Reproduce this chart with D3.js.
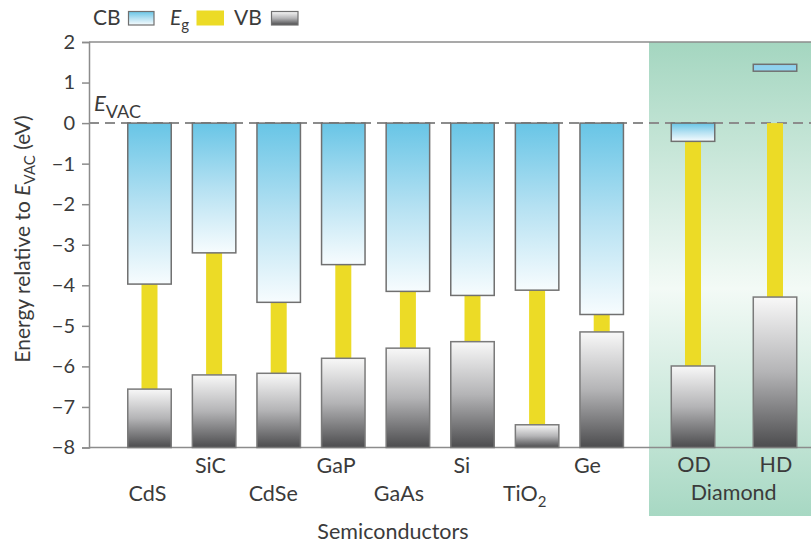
<!DOCTYPE html>
<html>
<head>
<meta charset="utf-8">
<title>Band edges</title>
<script src="https://d3js.org/d3.v7.min.js"></script>
<style>
  body { margin: 0; background: #fff; }
  text { font-family: Lato, "Open Sans", sans-serif; fill: #3b3b3b; }
</style>
</head>
<body>
<svg width="811" height="544"></svg>
<script>
// data (eV, relative to vacuum level)
const semis = ["CdS", "SiC", "CdSe", "GaP", "GaAs", "Si", "TiO2", "Ge"];
const diamonds = ["OD", "HD"];
const cbTop    = [0, 0, 0, 0, 0, 0, 0, 0, 0, 1.45];
const cbBottom = [-3.97, -3.2, -4.42, -3.49, -4.15, -4.25, -4.12, -4.72, -0.45, 1.28];
const vbTop    = [-6.56, -6.21, -6.17, -5.80, -5.55, -5.39, -7.44, -5.15, -5.99, -4.29];
const yTicks = [2, 1, 0, -1, -2, -3, -4, -5, -6, -7, -8];

var svg = d3.select("svg");
var grey = "#8c8c8c";

var y = d3.scaleLinear().domain([-8, 2]).range([447.5, 42]);
var xS = d3.scaleBand().domain(semis).range([117.2, 634]).paddingInner(0.327).paddingOuter(0.1635);
var xD = d3.scaleBand().domain(diamonds).range([652, 816]).paddingInner(0.47).paddingOuter(0.235);
var xL = d3.scalePoint().domain(semis).range([147.5, 587.5]);

var allNames = semis.concat(diamonds);
function bx(i) { return i < semis.length ? xS(allNames[i]) : xD(allNames[i]); }
var bw = xS.bandwidth();

// gradients
var defs = svg.append("defs");
function grad(id, stops) {
  var g = defs.append("linearGradient").attr("id", id)
    .attr("x1", 0).attr("y1", 0).attr("x2", 0).attr("y2", 1);
  stops.forEach(function(s) { g.append("stop").attr("offset", s[0]).attr("stop-color", s[1]); });
}
grad("cbGrad", [[0, "#68c5e6"], [0.5, "#b5e1f2"], [1, "#f7fcfe"]]);
grad("vbGrad", [[0, "#f8f8f8"], [0.5, "#b4b4b6"], [1, "#4c4c4e"]]);
grad("greenGrad", [[0, "#a4d6c0"], [0.52, "#f3faf6"], [1, "#a7d8c3"]]);

// diamond panel
svg.append("rect").attr("x", 649).attr("y", y(2)).attr("width", 162).attr("height", 516 - y(2))
  .attr("fill", "url(#greenGrad)");

// frame and axis
svg.append("line").attr("x1", 89).attr("x2", 811).attr("y1", y(2)).attr("y2", y(2))
  .attr("stroke", grey).attr("stroke-width", 1.5);
svg.append("line").attr("x1", 89).attr("x2", 811).attr("y1", y(-8)).attr("y2", y(-8))
  .attr("stroke", grey).attr("stroke-width", 1.5);
svg.append("line").attr("x1", 89).attr("x2", 811).attr("y1", y(0)).attr("y2", y(0))
  .attr("stroke", grey).attr("stroke-width", 2).attr("stroke-dasharray", "10,6");

var ax = svg.append("g").attr("transform", "translate(89,0)")
  .call(d3.axisLeft(y).tickValues(yTicks).tickSize(7).tickPadding(7)
    .tickFormat(function(d) { return d < 0 ? "\u2212" + Math.abs(d) : d; }));
ax.select(".domain").attr("stroke", grey).attr("stroke-width", 1.5);
ax.selectAll(".tick line").attr("stroke", grey).attr("stroke-width", 1.5);
ax.selectAll(".tick text").attr("fill", "#3b3b3b").style("font-size", "20px")
  .style("font-family", "Lato, sans-serif");

// band gap (yellow)
var idx = d3.range(allNames.length);
svg.append("g").selectAll("rect").data(idx).join("rect")
  .attr("x", function(i) { return bx(i) + bw / 2 - 8; })
  .attr("width", 16)
  .attr("y", function(i) { return y(Math.min(cbBottom[i], 0)); })
  .attr("height", function(i) { return y(vbTop[i]) - y(Math.min(cbBottom[i], 0)); })
  .attr("fill", "#ecdb26");

// conduction band boxes
svg.append("g").selectAll("rect").data(idx).join("rect")
  .attr("x", function(i) { return bx(i); })
  .attr("width", bw)
  .attr("y", function(i) { return y(cbTop[i]); })
  .attr("height", function(i) { return y(cbBottom[i]) - y(cbTop[i]); })
  .attr("fill", function(i) { return cbTop[i] > 0 ? "#8fd2ee" : "url(#cbGrad)"; })
  .attr("stroke", "#707070").attr("stroke-width", 1.5);

// valence band boxes
svg.append("g").selectAll("rect").data(idx).join("rect")
  .attr("x", function(i) { return bx(i); })
  .attr("width", bw)
  .attr("y", function(i) { return y(vbTop[i]); })
  .attr("height", function(i) { return y(-8) - y(vbTop[i]); })
  .attr("fill", "url(#vbGrad)")
  .attr("stroke", "#7a7a7a").attr("stroke-width", 1.5);

// category labels
var lab = svg.append("g").style("font-size", "21.5px").attr("text-anchor", "middle");
semis.forEach(function(s, i) {
  var t = lab.append("text").attr("x", xL(s)).attr("y", i % 2 ? 472.5 : 501);
  if (s === "TiO2") {
    t.append("tspan").text("TiO");
    t.append("tspan").attr("dy", 6).style("font-size", "15px").text("2");
  } else t.text(s);
});
diamonds.forEach(function(s) {
  lab.append("text").attr("x", xD(s) + xD.bandwidth() / 2 + 1).attr("y", 471.5).text(s);
});
lab.append("text").attr("x", 733.7).attr("y", 500).text("Diamond");
lab.append("text").attr("x", 393).attr("y", 538.5).text("Semiconductors");

// E_VAC label
var ev = svg.append("text").attr("x", 94).attr("y", 111).style("font-size", "22px");
ev.append("tspan").style("font-style", "italic").text("E");
ev.append("tspan").attr("dy", 7).style("font-size", "18px").text("VAC");

// y title
var yt = svg.append("text").attr("transform", "translate(30,239) rotate(-90)")
  .attr("text-anchor", "middle").style("font-size", "21px");
yt.append("tspan").text("Energy relative to ");
yt.append("tspan").style("font-style", "italic").text("E");
yt.append("tspan").attr("dy", 5).style("font-size", "15px").text("VAC");
yt.append("tspan").attr("dy", -5).text(" (eV)");

// legend
var lg = svg.append("g").style("font-size", "21px");
lg.append("text").attr("x", 93).attr("y", 25).text("CB");
lg.append("rect").attr("x", 128.5).attr("y", 11.5).attr("width", 25.5).attr("height", 13.5)
  .attr("fill", "url(#cbGrad)").attr("stroke", "#707070").attr("stroke-width", 1.2);
var le = lg.append("text").attr("x", 170).attr("y", 25);
le.append("tspan").style("font-style", "italic").text("E");
le.append("tspan").attr("dy", 5).style("font-size", "15px").text("g");
lg.append("rect").attr("x", 196.5).attr("y", 10.5).attr("width", 27.5).attr("height", 15)
  .attr("fill", "#ecdb26");
lg.append("text").attr("x", 234).attr("y", 25).text("VB");
lg.append("rect").attr("x", 271.5).attr("y", 11.5).attr("width", 26.5).attr("height", 13.5)
  .attr("fill", "url(#vbGrad)").attr("stroke", "#707070").attr("stroke-width", 1.2);
</script>
</body>
</html>
